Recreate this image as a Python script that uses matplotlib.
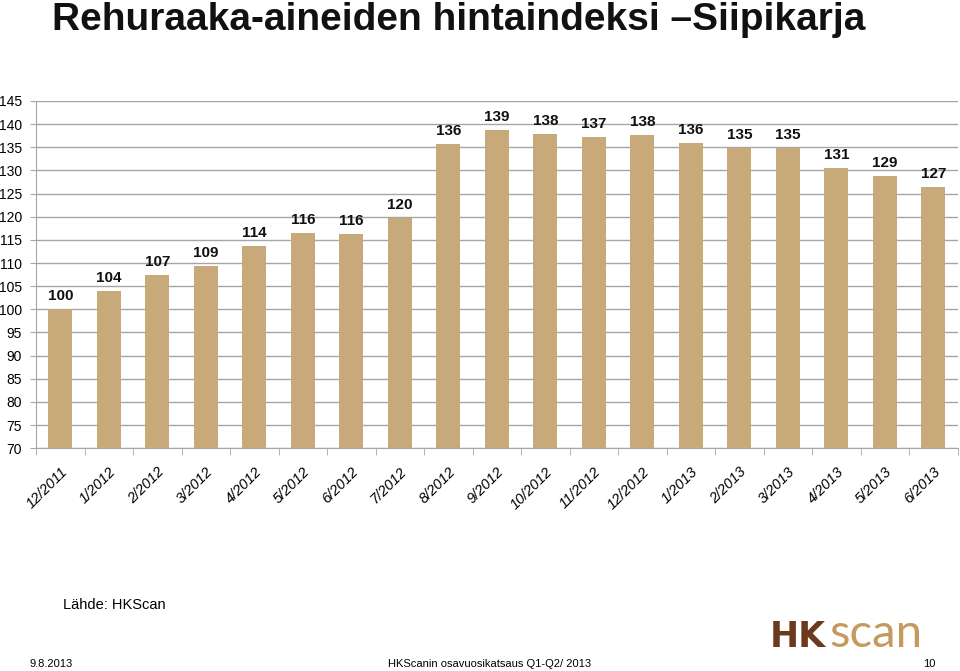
import numpy as np
import matplotlib.pyplot as plt
from matplotlib import rcParams

rcParams["font.family"] = ["Liberation Sans", "DejaVu Sans"]

months = ["12/2011", "1/2012", "2/2012", "3/2012", "4/2012", "5/2012", "6/2012",
          "7/2012", "8/2012", "9/2012", "10/2012", "11/2012", "12/2012",
          "1/2013", "2/2013", "3/2013", "4/2013", "5/2013", "6/2013"]
values = [100.0, 104.0, 107.4, 109.3, 113.6, 116.5, 116.2, 119.8, 135.8, 138.7,
          137.9, 137.2, 137.7, 135.9, 134.8, 134.8, 130.6, 128.9, 126.5]
labels = [100, 104, 107, 109, 114, 116, 116, 120, 136, 139,
          138, 137, 138, 136, 135, 135, 131, 129, 127]
yticks = list(range(70, 146, 5))

bar_color = "#C8AA7A"
grid_color = "#A6A6A6"

fig = plt.figure(figsize=(9.6, 6.71), dpi=100, facecolor="white")
ax = fig.add_axes([0.0375, 0.332, 0.96, 0.5175])

x = np.arange(len(months))
ax.bar(x, values, width=0.5, color=bar_color, zorder=3)
for xi, v, lab in zip(x, values, labels):
    ax.text(xi, v + 1.3, str(lab), ha="center", va="bottom",
            fontsize=11, fontweight="bold", color="#111111", zorder=4)

ax.set_ylim(70, 145)
ax.set_xlim(-0.5, len(months) - 0.5)
ax.set_yticks(yticks)
ax.yaxis.grid(True, color=grid_color, linewidth=1.0, zorder=0)
ax.tick_params(axis="y", labelsize=10, length=4, color=grid_color, pad=6)

ax.set_xticks(x)
ax.set_xticklabels(months, rotation=45, ha="right", rotation_mode="anchor",
                   fontsize=10.5, fontstyle="italic")
ax.tick_params(axis="x", length=0, pad=12)
ax.set_xticks(np.arange(len(months) + 1) - 0.5, minor=True)
ax.tick_params(axis="x", which="minor", length=5, color=grid_color, direction="out")

for side in ["top", "right"]:
    ax.spines[side].set_visible(False)
ax.spines["left"].set_color(grid_color)
ax.spines["bottom"].set_color(grid_color)

fig.text(0.054, 0.955, "Rehuraaka-aineiden hintaindeksi \u2013Siipikarja",
         fontsize=28, fontweight="bold", ha="left", va="baseline",
         color="#111111")

fig.text(0.066, 0.098, "Lähde: HKScan", fontsize=10.5, ha="left", va="center")
fig.text(0.031, 0.01, "9.8.2013", fontsize=8, ha="left", va="center")
fig.text(0.51, 0.01, "HKScanin osavuosikatsaus Q1-Q2/ 2013", fontsize=8,
         ha="center", va="center")
fig.text(0.968, 0.01, "10", fontsize=8, ha="center", va="center")

fig.text(0.802, 0.036, "HK", fontsize=25, color="#6B3A1C", ha="left",
         va="baseline", fontweight="bold", family=["DejaVu Sans"])
fig.text(0.864, 0.036, "scan", fontsize=34, color="#C59A5E", ha="left",
         va="baseline", family=["Lato", "DejaVu Sans"])

fig.savefig("out.png", dpi=100, facecolor="white")
